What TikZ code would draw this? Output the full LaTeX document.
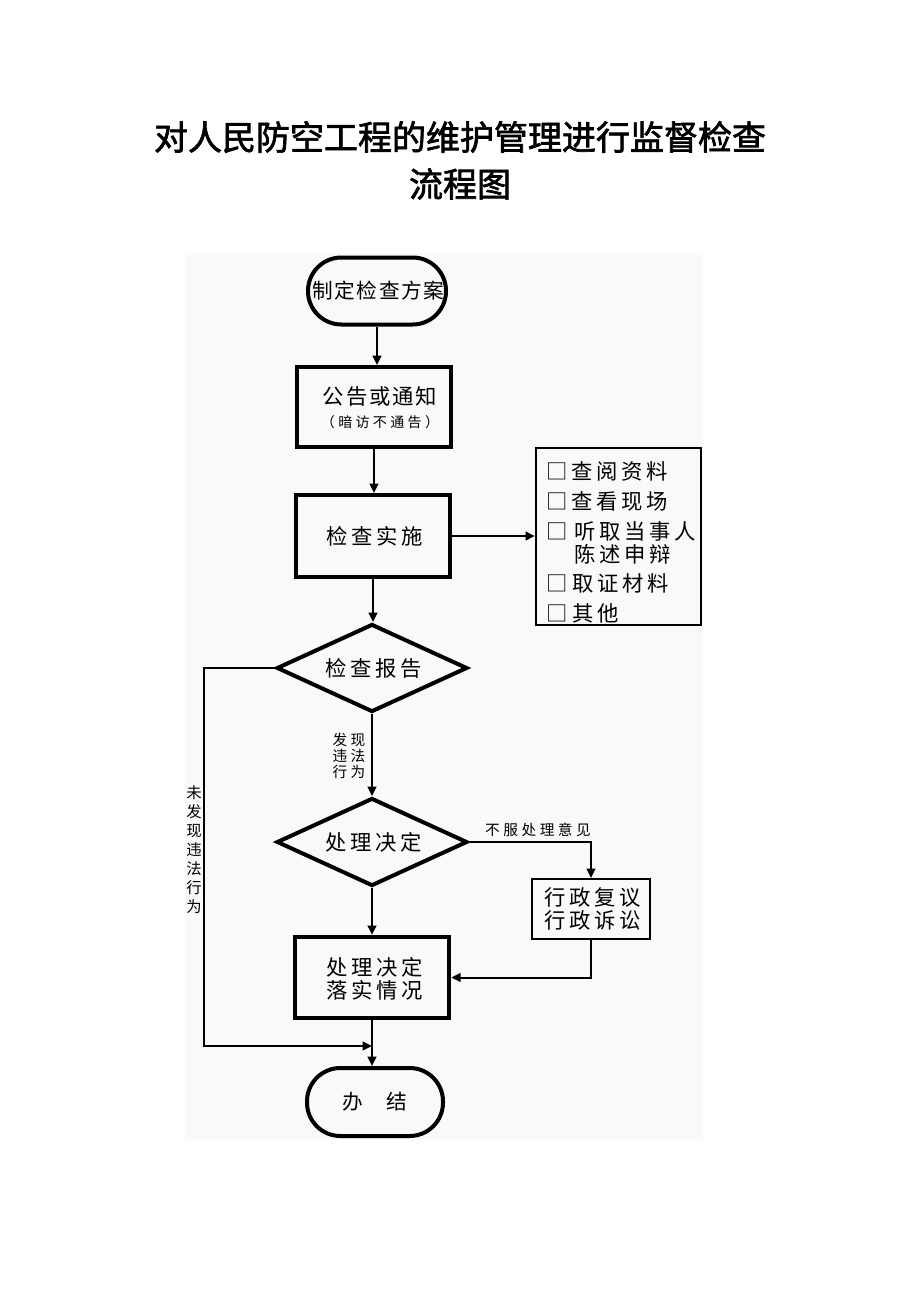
\documentclass[tikz,border=0pt]{standalone}
\usepackage{fontspec}
\usetikzlibrary{arrows.meta,shapes.geometric}
\newfontfamily\cjka[LetterSpace=7]{Noto Sans CJK SC}
\newfontfamily\cjkb[LetterSpace=9]{Noto Sans CJK SC}
\newfontfamily\cjkc[LetterSpace=17]{Noto Sans CJK SC}
\newfontfamily\cjks[LetterSpace=24]{Noto Sans CJK SC}
\newfontfamily\cjkt[AutoFakeBold=2]{Noto Sans CJK SC}
\newcommand\startf{\cjka\fontsize{15.5}{18}\selectfont}
\newcommand\noticef{\cjkb\fontsize{16}{18}\selectfont}
\newcommand\bodyf{\cjkc\fontsize{16}{18}\selectfont}
\newcommand\smallf{\cjks\fontsize{10.5}{13}\selectfont}
\newcommand\labf{\cjks\fontsize{11}{12}\selectfont}
\newcommand\vlabf{\cjks\fontsize{11.5}{14.25}\selectfont}
\newcommand\titlef{\cjkt\bfseries\fontsize{25.5}{30}\selectfont}
\definecolor{panel}{RGB}{249,249,249}
\tikzset{
  box/.style={draw, line width=3pt, inner sep=0pt},
  thinbox/.style={draw, line width=1.5pt, inner sep=0pt},
  stadium/.style={draw, line width=3pt, inner sep=0pt, rounded corners=25pt},
  dia/.style={diamond, draw, line width=3pt, inner sep=0pt, aspect=2},
  arr/.style={line width=1.5pt, -{Triangle[length=7pt,width=6.5pt]}},
  txt/.style={inner sep=0pt}
}
\begin{document}
\begin{tikzpicture}[x=0.75pt,y=-0.75pt]
\useasboundingbox (0,0) rectangle (920,1302);
\fill[white] (0,0) rectangle (920,1302);
\fill[panel] (185,253) rectangle (703,1140);

% title
\node[txt, font=\titlef] (title1) at (460,137) {对人民防空工程的维护管理进行监督检查};
\node[txt, font=\titlef] (title2) at (460,184) {流程图};

% nodes
\node[stadium, minimum width=103.5pt, minimum height=50.25pt, font=\startf] (start) at (377,291) {\hspace*{2pt}制定检查方案};
\node[box, minimum width=116pt, minimum height=60pt] (notice) at (374,407) {};
\node[txt, font=\noticef] (noticet1) at (380,396) {公告或通知};
\node[txt, font=\smallf] (noticet2) at (380,422) {（暗访不通告）};
\node[box, minimum width=116pt, minimum height=61.5pt, font=\bodyf] (impl) at (373,536) {\hspace*{3pt}检查实施};

\node[thinbox, minimum width=124pt, minimum height=133pt] (list) at (618.5,536.5) {};
\node[txt, font=\bodyf] (b1) at (557,471) {□};
\node[txt, anchor=west, font=\bodyf] (l1) at (571,471) {查阅资料};
\node[txt, font=\bodyf] (b2) at (557,501) {□};
\node[txt, anchor=west, font=\bodyf] (l2) at (571,501) {查看现场};
\node[txt, font=\bodyf] (b3) at (557,531) {□};
\node[txt, anchor=west, font=\bodyf] (l3) at (574,531) {听取当事人};
\node[txt, anchor=west, font=\bodyf] (l3b) at (574,554) {陈述申辩};
\node[txt, font=\bodyf] (b4) at (557,583) {□};
\node[txt, anchor=west, font=\bodyf] (l4) at (572,583) {取证材料};
\node[txt, font=\bodyf] (b5) at (557,613) {□};
\node[txt, anchor=west, font=\bodyf] (l5) at (572,613) {其他};

\node[dia, minimum width=143pt, minimum height=66pt, font=\bodyf] (report) at (372,668) {\hspace*{3pt}检查报告};
\node[txt, align=center, font=\labf] (lab1) at (349,756) {发现\\违法\\行为};
\node[dia, minimum width=143pt, minimum height=66pt, font=\bodyf] (decide) at (372,842) {\hspace*{3pt}处理决定};
\node[txt, font=\labf] (lab2) at (538,830) {不服处理意见};

\node[thinbox, minimum width=88pt, minimum height=45pt] (review) at (591,909) {};
\node[txt, font=\bodyf] (rt1) at (593,897) {行政复议};
\node[txt, font=\bodyf] (rt2) at (593,920) {行政诉讼};

\node[box, minimum width=116pt, minimum height=61pt] (n5) at (372,977.5) {};
\node[txt, font=\bodyf] (n5t1) at (375,967) {处理决定};
\node[txt, font=\bodyf] (n5t2) at (375,990) {落实情况};

\node[stadium, minimum width=102pt, minimum height=51pt, font=\startf] (end) at (375,1102) {办　结};

\node[txt, align=center, font=\vlabf] (lab3) at (194,850) {未\\发\\现\\违\\法\\行\\为};

% connectors
\draw[arr] (start.south) -- (start.south |- notice.north);
\draw[arr] (notice.south) -- (notice.south |- impl.north);
\draw[arr] (impl.east) -- (impl.east -| list.west);
\draw[arr] (impl.south) -- (impl.south |- report.north);
\draw[arr] (report.south) -- (decide.north);
\draw[arr] (decide.south) -- (decide.south |- n5.north);
\draw[arr] (n5.south) -- (n5.south |- end.north);
\draw[arr] (decide.east) -| (review.north);
\draw[arr] (review.south) |- (n5.east);
\coordinate (lt) at (204,668);
\coordinate (lb) at (204,1046);
\coordinate (join) at (372,1046);
\draw[arr] (report.west) -- (lt) -- (lb) -- (join);
\end{tikzpicture}
\end{document}
